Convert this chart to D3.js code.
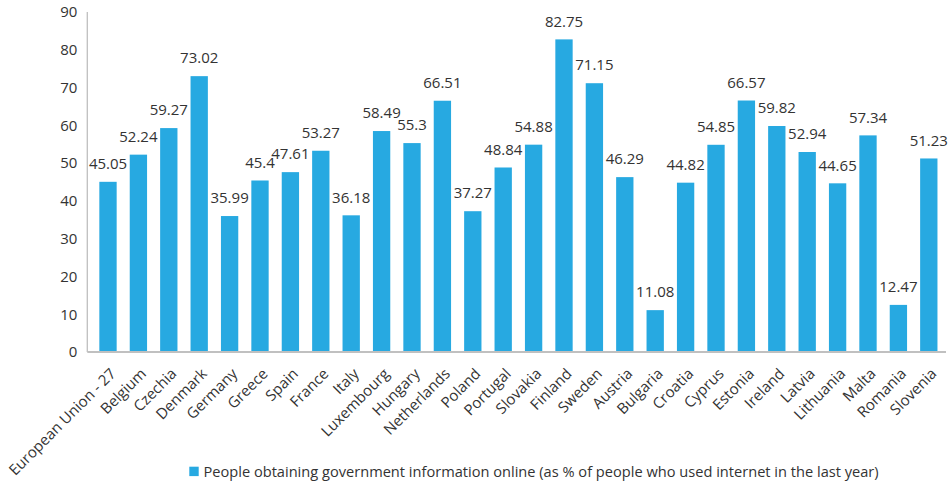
<!DOCTYPE html>
<html>
<head>
<meta charset="utf-8">
<script src="https://cdn.jsdelivr.net/npm/d3@7"></script>
<style>
  body { margin: 0; background: #fff; }
  svg { display: block; font-family: "Open Sans", sans-serif; }
</style>
</head>
<body>
<div class="chart"></div>
<script>
const countries = ['European Union - 27', 'Belgium', 'Czechia', 'Denmark', 'Germany', 'Greece', 'Spain',
    'France', 'Italy', 'Luxembourg', 'Hungary', 'Netherlands', 'Poland', 'Portugal', 'Slovakia',
    'Finland', 'Sweden', 'Austria', 'Bulgaria', 'Croatia', 'Cyprus', 'Estonia', 'Ireland', 'Latvia',
    'Lithuania', 'Malta', 'Romania', 'Slovenia'];
const values = [45.05, 52.24, 59.27, 73.02, 35.99, 45.4, 47.61, 53.27, 36.18, 58.49, 55.3, 66.51,
    37.27, 48.84, 54.88, 82.75, 71.15, 46.29, 11.08, 44.82, 54.85, 66.57, 59.82, 52.94, 44.65,
    57.34, 12.47, 51.23];
const yTicks = [0, 10, 20, 30, 40, 50, 60, 70, 80, 90];
const seriesName = 'People obtaining government information online (as % of people who used internet in the last year)';

const W = 950, H = 483;
const barColor = '#27a9e1';
const textColor = '#333';
const data = countries.map((c, i) => ({ name: c, value: values[i] }));

const svg = d3.select('.chart').append('svg')
    .attr('width', W)
    .attr('height', H);

const x = d3.scaleBand()
    .domain(countries)
    .range([92.8, 944])
    .paddingInner(0.43)
    .paddingOuter(0.215);

const y = d3.scaleLinear()
    .domain([0, 90])
    .range([352, 12]);

// y axis labels, no ticks
const yAxis = svg.append('g')
    .attr('transform', 'translate(87.3,0)')
    .call(d3.axisLeft(y).tickValues(yTicks).tickSize(0).tickPadding(10));
yAxis.select('.domain').remove();
yAxis.selectAll('text')
    .attr('fill', textColor)
    .style('font-size', '15px')
    .style('font-family', '"Open Sans", sans-serif');

// bars
svg.append('g')
    .selectAll('rect')
    .data(data)
    .join('rect')
        .attr('x', d => x(d.name))
        .attr('y', d => y(d.value))
        .attr('width', x.bandwidth())
        .attr('height', d => y(0) - y(d.value))
        .attr('fill', barColor);

// axis lines
svg.append('line')
    .attr('x1', 87.3).attr('x2', 87.3)
    .attr('y1', y(90)).attr('y2', y(0))
    .attr('stroke', '#bfbfbf').attr('stroke-width', 1.3);
svg.append('line')
    .attr('x1', 87.3).attr('x2', 946)
    .attr('y1', y(0)).attr('y2', y(0))
    .attr('stroke', '#c0c0c0').attr('stroke-width', 2);

// value labels
svg.append('g')
    .selectAll('text')
    .data(data)
    .join('text')
        .attr('x', d => x(d.name) + x.bandwidth() / 2)
        .attr('y', d => y(d.value) - 18)
        .attr('dy', '0.35em')
        .attr('text-anchor', 'middle')
        .attr('fill', textColor)
        .style('font-size', '15px')
        .text(d => d.value);

// category labels, rotated
svg.append('g')
    .selectAll('text')
    .data(data)
    .join('text')
        .attr('transform', d => `translate(${x(d.name) + x.bandwidth() / 2 + 5},371) rotate(-45)`)
        .attr('dy', '0.35em')
        .attr('text-anchor', 'end')
        .attr('fill', textColor)
        .style('font-size', '15px')
        .text(d => d.name);

// legend
const legend = svg.append('g');
legend.append('rect')
    .attr('x', 189.3).attr('y', 466.7)
    .attr('width', 9.4).attr('height', 9.4)
    .attr('fill', barColor);
const legendText = legend.append('text')
    .attr('x', 203.5).attr('y', 471.5)
    .attr('dy', '0.35em')
    .attr('fill', textColor)
    .style('font-size', '15px')
    .text(seriesName);
const lw = legendText.node().getComputedTextLength();
legendText.style('font-size', (15 * 676 / lw) + 'px');
</script>
</body>
</html>
